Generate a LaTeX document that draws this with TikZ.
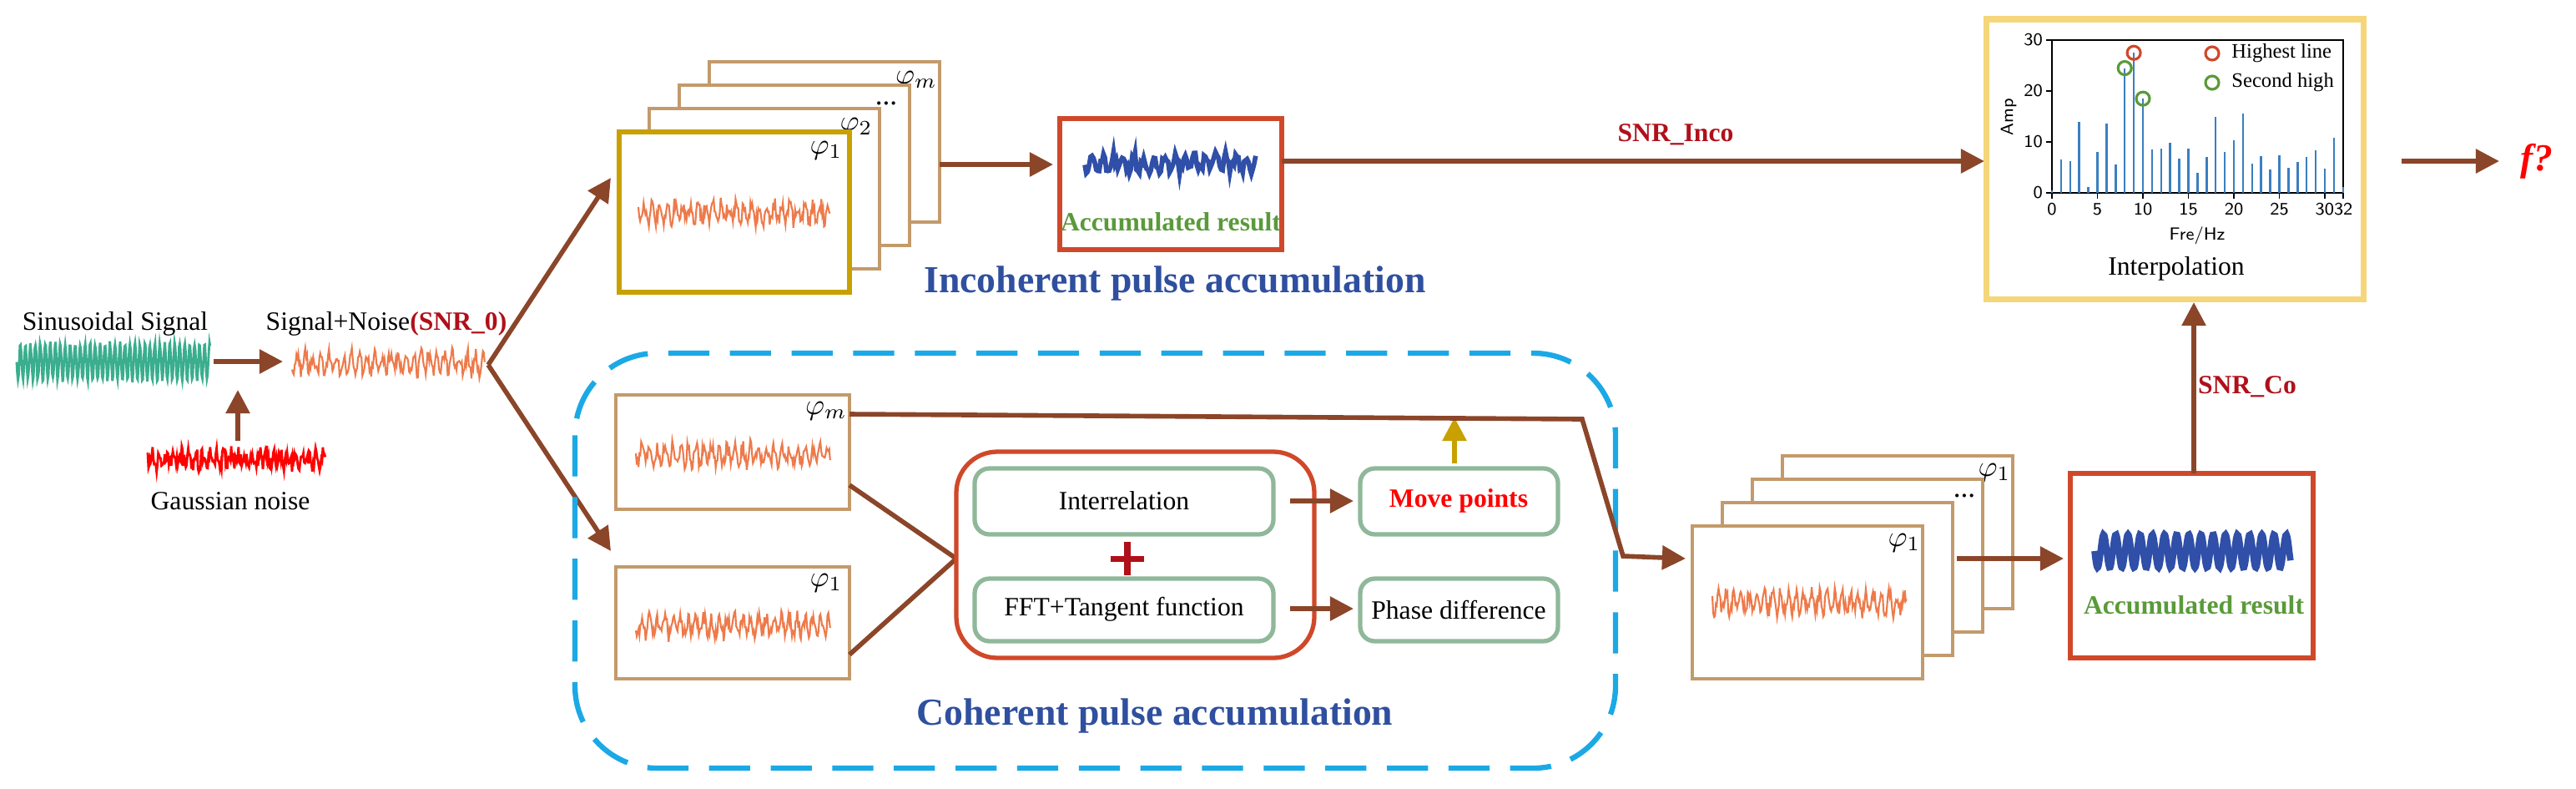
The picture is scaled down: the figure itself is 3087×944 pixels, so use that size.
\documentclass[tikz,border=0pt]{standalone}
\usepackage{fontspec}
\setmainfont{Liberation Serif}
\usetikzlibrary{arrows.meta}
\definecolor{brn}{HTML}{8B4529}
\definecolor{tan}{HTML}{C39A6B}
\definecolor{gold}{HTML}{C8A000}
\definecolor{org}{HTML}{EE7A4A}
\definecolor{rbox}{HTML}{D0482A}
\definecolor{gbox}{HTML}{8FB89A}
\definecolor{blu}{HTML}{2F4FA8}
\definecolor{tit}{HTML}{2F4F9F}
\definecolor{drd}{HTML}{B0101A}
\definecolor{teal}{HTML}{3AAE8E}
\definecolor{ylw}{HTML}{F5D67A}
\definecolor{cyn}{HTML}{1BA9E6}
\definecolor{grn}{HTML}{5A9A3A}
\definecolor{bar}{HTML}{3A7FC0}
\newcommand\mynoise[4]{% x1 x2 yc color
  \draw[#4,line width=0.6pt] plot[domain=0:1,samples=220] ({#1+\x*(#2-#1)},{#3+10*sin(\x*9000)+9*rand});}
\begin{document}
\begin{tikzpicture}[x=0.01cm,y=-0.01cm,
  arr/.style={brn,line width=1.6pt,-{Triangle[length=8pt,width=8pt]}},
  ln/.style={brn,line width=1.6pt},
  frm/.style={draw=tan,line width=1.3pt,fill=white},
  lbl/.style={font=\fontsize{9}{11}\selectfont},
  phi/.style={font=\fontsize{10}{12}\selectfont,inner sep=1pt},
  acc/.style={text=grn,font=\bfseries\fontsize{9}{11}\selectfont},
  snr/.style={text=drd,font=\bfseries\fontsize{9}{11}\selectfont},
  tt/.style={text=tit,font=\bfseries\fontsize{13}{15}\selectfont},
  gb/.style={gbox,line width=1.5pt,rounded corners=5pt,fill=white}]
\useasboundingbox (0,0) rectangle (3087,944);
\pgfmathsetseed{7}
% left part
\node[lbl] (sin) at (138,388) {Sinusoidal Signal};
\draw[teal,line width=0.8pt] plot[domain=0:1,samples=300] ({20+232*\x},{433+22*sin(\x*14000)+3*rand});
\coordinate (sinc) at (285,467);
\draw[red,line width=0.8pt] plot[domain=0:1,samples=220] ({177+213*\x},{550+6*sin(\x*9000)+10*rand});
\node[lbl] (gn) at (276,600) {Gaussian noise};
\coordinate (gup) at (285,528);
\draw[arr] (gup) -- (sinc);
\coordinate (s1) at (256,433); \coordinate (s2) at (339,433);
\draw[arr] (s1) -- (s2);
\node[lbl] (sn) at (463,388) {Signal+Noise\textcolor{drd}{\textbf{(SNR\_0)}}};
\mynoise{350}{581}{435}{org}
\coordinate (br) at (585,437);
\coordinate (b1) at (732,213); \coordinate (b2) at (732,660);
\draw[arr] (br) -- (b1);
\draw[arr] (br) -- (b2);
% incoherent stack
\foreach \k/\t in {3/{$\varphi_m$},2/{...},1/{$\varphi_2$}}{
  \draw[frm] ({742+36*\k},{158-28*\k}) rectangle ({1018+36*\k},{350-28*\k});
  \node[phi] at ({990+36*\k},{180-28*\k}) {\t};}
\draw[draw=gold,line width=1.5pt,fill=white] (742,158) rectangle (1018,350);
\node[phi] (p1) at (990,180) {$\varphi_1$};
\mynoise{765}{995}{255}{org}
\coordinate (ia) at (1126,197); \coordinate (ib) at (1262,197);
\draw[arr] (ia) -- (ib);
\draw[draw=rbox,line width=1.5pt] (1270,142) rectangle (1536,299);
\draw[blu,line width=1.6pt] plot[domain=0:1,samples=120] ({1300+205*\x},{195+8*sin(\x*6000)+7*rand});
\node[acc] at (1403,266) {Accumulated result};
\node[tt] at (1408,339) {Incoherent pulse accumulation};
\coordinate (la) at (1536,193); \coordinate (lb) at (2378,193);
\draw[arr] (la) -- (lb);
\node[snr] at (2008,161) {SNR\_Inco};
% interpolation box
\draw[draw=ylw,line width=2pt] (2380,23) rectangle (2832,358);
\draw[line width=0.6pt] (2459,48) rectangle (2808,231);
\foreach \v in {0,10,20,30}{
  \draw[line width=0.5pt] (2452,{231-6.1*\v}) -- (2459,{231-6.1*\v});
  \node[font=\sffamily\fontsize{6}{7}\selectfont,anchor=east,inner sep=1pt] at (2452,{231-6.1*\v}) {\v};}
\foreach \v in {0,5,10,15,20,25,30,32}{
  \draw[line width=0.5pt] ({2459+10.9*\v},231) -- ({2459+10.9*\v},238);}
\foreach \v in {0,5,10,15,20,25}{
  \node[font=\sffamily\fontsize{6}{7}\selectfont,anchor=north,inner sep=1pt] at ({2459+10.9*\v},239) {\v};}
\node[font=\sffamily\fontsize{6}{7}\selectfont,anchor=north,inner sep=1pt] at (2797,239) {3032};
\node[font=\sffamily\fontsize{6}{7}\selectfont] at (2633,282) {Fre/Hz};
\node[font=\sffamily\fontsize{6}{7}\selectfont,rotate=90] at (2407,140) {Amp};
\foreach \h [count=\i from 0] in {0.5,6.5,6.3,14,1.2,8,13.6,5.5,24.5,27.5,18.5,8.5,8.7,9.8,6.8,8.7,4,7,15,8,10.4,15.6,5.7,7.2,4.6,7.3,5,6,7,8.4,4.8,10.8,1.2}{
  \draw[bar,line width=0.7pt] ({2459+10.9*\i},231) -- ({2459+10.9*\i},{231-6.1*\h});}
\draw[rbox,line width=0.9pt] ({2459+10.9*9},{231-6.1*27.5}) circle (8);
\draw[grn,line width=0.9pt] ({2459+10.9*8},{231-6.1*24.5}) circle (8);
\draw[grn,line width=0.9pt] ({2459+10.9*10},{231-6.1*18.5}) circle (8);
\draw[rbox,line width=0.9pt] (2651,64) circle (8);
\draw[grn,line width=0.9pt] (2651,99) circle (8);
\node[font=\fontsize{7}{8}\selectfont,anchor=west] at (2662,64) {Highest line};
\node[font=\fontsize{7}{8}\selectfont,anchor=west] at (2662,99) {Second high};
\node[lbl] (interp) at (2608,322) {Interpolation};
\coordinate (oa) at (2878,193); \coordinate (ob) at (2995,193);
\draw[arr] (oa) -- (ob);
\node[text=red,font=\bfseries\itshape\fontsize{13}{15}\selectfont] (f) at (3040,193) {f?};
% coherent part
\draw[cyn,line width=1.8pt,dash pattern=on 14pt off 7pt,rounded corners=28pt] (689,423) rectangle (1936,920);
\draw[frm] (738,473) rectangle (1018,610);
\node[phi] at (990,492) {$\varphi_m$};
\mynoise{762}{995}{545}{org}
\draw[frm] (738,679) rectangle (1018,813);
\node[phi] at (990,698) {$\varphi_1$};
\mynoise{762}{995}{750}{org}
\coordinate (ja) at (1018,581); \coordinate (jb) at (1018,784); \coordinate (jc) at (1146,669);
\draw[ln] (ja) -- (jc); \draw[ln] (jb) -- (jc);
\draw[draw=rbox,line width=1.5pt,rounded corners=14pt] (1146,541) rectangle (1575,788);
\draw[gb] (1168,561) rectangle (1526,640);
\node[lbl] (ir) at (1347,600) {Interrelation};
\draw[gb] (1168,693) rectangle (1526,768);
\node[lbl] (fft) at (1347,730) {FFT+Tangent function};
\draw[drd,line width=2pt] (1331,669) -- (1371,669) (1351,649) -- (1351,689);
\draw[gb] (1630,561) rectangle (1867,640);
\node[text=red,font=\bfseries\fontsize{9}{11}\selectfont] (mp) at (1748,600) {Move points};
\draw[gb] (1630,693) rectangle (1867,768);
\node[lbl] (pd) at (1748,730) {Phase difference};
\coordinate (ka) at (1546,600); \coordinate (kb) at (1622,600);
\coordinate (kc) at (1546,729); \coordinate (kd) at (1622,729);
\draw[arr] (ka) -- (kb); \draw[arr] (kc) -- (kd);
\coordinate (ga) at (1743,555); \coordinate (gb) at (1743,500);
\draw[gold,line width=1.6pt,-{Triangle[length=8pt,width=8pt]}] (ga) -- (gb);
\coordinate (ma) at (1018,496); \coordinate (mb) at (1896,502); \coordinate (mc) at (1945,666); \coordinate (md) at (2020,669);
\draw[arr] (ma) -- (mb) -- (mc) -- (md);
\node[tt] at (1384,857) {Coherent pulse accumulation};
% coherent stack
\foreach \k/\t in {3/{$\varphi_1$},2/{...},1/{}}{
  \draw[frm] ({2028+36*\k},{630-28*\k}) rectangle ({2304+36*\k},{813-28*\k});
  \node[phi] at ({2282+36*\k},{650-28*\k}) {\t};}
\draw[frm] (2028,630) rectangle (2304,813);
\node[phi] at (2282,650) {$\varphi_1$};
\mynoise{2052}{2285}{722}{org}
\coordinate (na) at (2345,669); \coordinate (nb) at (2473,669);
\draw[arr] (na) -- (nb);
\draw[draw=rbox,line width=1.5pt] (2481,567) rectangle (2772,788);
\draw[blu,line width=2.2pt] plot[domain=0:1,samples=200,smooth] ({2510+235*\x},{660+20*sin(\x*5800)});
\node[acc] at (2629,725) {Accumulated result};
\coordinate (ua) at (2629,567); \coordinate (ub) at (2629,362);
\draw[arr] (ua) -- (ub);
\node[snr] at (2693,463) {SNR\_Co};
\end{tikzpicture}
\end{document}
